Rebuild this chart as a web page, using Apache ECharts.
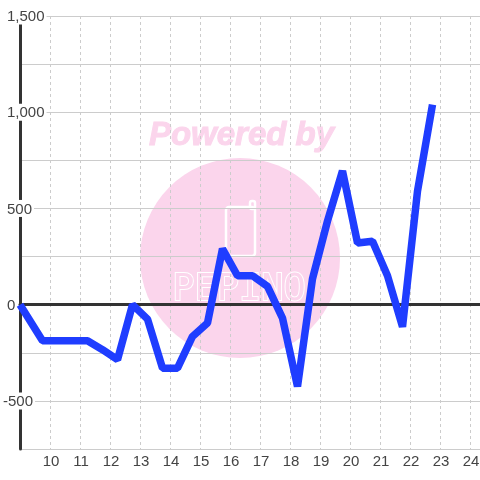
<!DOCTYPE html>
<html>
<head>
<meta charset="utf-8">
<style>
  html, body { margin: 0; padding: 0; background: #fff; }
  #chart { width: 480px; height: 480px; }
</style>
<script src="https://cdn.jsdelivr.net/npm/echarts@6/dist/echarts.min.js"></script>
</head>
<body>
<div id="chart"></div>
<script>
  // x = hour of day, y = value
  var hours = [9, 9.75, 10.25, 10.75, 11.25, 11.75, 12.25, 12.75, 13.25, 13.75, 14.25, 14.75, 15.25, 15.75, 16.25, 16.75, 17.25, 17.75, 18.25, 18.75, 19.25, 19.75, 20.25, 20.75, 21.25, 21.75, 22.25, 22.75];
  var values = [0, -188, -188, -188, -188, -234, -286, 0, -75, -330, -330, -165, -95, 290, 150, 150, 95, -70, -425, 135, 435, 695, 320, 330, 150, -115, 590, 1040];
  var yTickLabels = [-500, 0, 500, 1000, 1500];
  var xTickLabels = [10, 11, 12, 13, 14, 15, 16, 17, 18, 19, 20, 21, 22, 23, 24];

  var chart = echarts.init(document.getElementById('chart'));
  var fontFamily = '"Liberation Sans", Arial, sans-serif';

  chart.setOption({
    animation: false,
    backgroundColor: '#ffffff',
    // right is negative so that 25 falls off the canvas and one hour is 30px
    grid: { left: 20, right: -20, top: 16, bottom: 31, outerBoundsMode: 'none' },
    graphic: [
      { type: 'circle', z: -1, shape: { cx: 240, cy: 258, r: 100 }, style: { fill: '#fbd5ec' } },
      {
        type: 'text', z: -1, x: 241.5, y: 136,
        style: {
          text: 'Powered by', fill: '#fbd5ec', stroke: '#fbd5ec', lineWidth: 1, align: 'center', verticalAlign: 'middle',
          font: 'italic bold 33px "Liberation Sans"'
        }
      },
      {
        type: 'rect', z: -1,
        shape: { x: 226, y: 207, width: 29, height: 49, r: 3 },
        style: { fill: 'none', stroke: '#ffffff', lineWidth: 2.5 }
      },
      {
        type: 'rect', z: -1,
        shape: { x: 250, y: 201, width: 5, height: 8, r: 2 },
        style: { fill: 'none', stroke: '#ffffff', lineWidth: 2.5 }
      },
      {
        type: 'text', z: -1, x: 239, y: 290,
        style: {
          text: 'PEPINO', fill: '#fbd5ec', stroke: '#ffffff', lineWidth: 2, align: 'center', verticalAlign: 'middle',
          font: '37px "DejaVu Sans Mono"'
        }
      }
    ],
    xAxis: [
      {
        type: 'value',
        position: 'bottom',
        min: 9,
        max: 25,
        interval: 1,
        axisLine: { show: false, onZero: false },
        axisTick: { show: false },
        axisLabel: {
          fontSize: 15,
          fontFamily: fontFamily,
          color: '#444444',
          margin: 5,
          padding: [0, 0, 0, 2],
          formatter: function (v) {
            return xTickLabels.indexOf(v) >= 0 ? String(v) : '';
          }
        },
        splitLine: { show: true, lineStyle: { color: '#cccccc', type: [3, 3], width: 1 } }
      },
      {
        // zero line, no labels
        type: 'value',
        min: 9,
        max: 25,
        interval: 1,
        axisLine: { show: true, onZero: true, lineStyle: { color: '#333333', width: 3 } },
        axisTick: { show: false },
        axisLabel: { show: false },
        splitLine: { show: false }
      }
    ],
    yAxis: {
      type: 'value',
      min: -750,
      max: 1500,
      interval: 250,
      axisLine: { show: true, onZero: false, lineStyle: { color: '#333333', width: 3 } },
      axisTick: { show: false },
      axisLabel: {
        align: 'left',
        margin: 17,
        fontSize: 15,
        fontFamily: fontFamily,
        color: '#444444',
        formatter: function (v) {
          if (yTickLabels.indexOf(v) < 0) return '';
          var s = echarts.format.addCommas(v);
          return v < 0 ? '{neg|' + s + '}' : '{pos|' + s + '}';
        },
        rich: {
          neg: { backgroundColor: '#ffffff', padding: [2, 2, 0, 0], fontSize: 15, color: '#444444' },
          pos: { backgroundColor: '#ffffff', padding: [2, 2, 0, 4], fontSize: 15, color: '#444444' }
        }
      },
      splitLine: { show: true, lineStyle: { color: '#cccccc', width: 1 } }
    },
    series: [
      {
        type: 'line',
        xAxisIndex: 0,
        data: hours.map(function (h, i) { return [h, values[i]]; }),
        showSymbol: false,
        symbol: 'none',
        lineStyle: { color: '#1f3dff', width: 7.5, cap: 'butt', join: 'bevel' }
      }
    ]
  });
</script>
</body>
</html>
